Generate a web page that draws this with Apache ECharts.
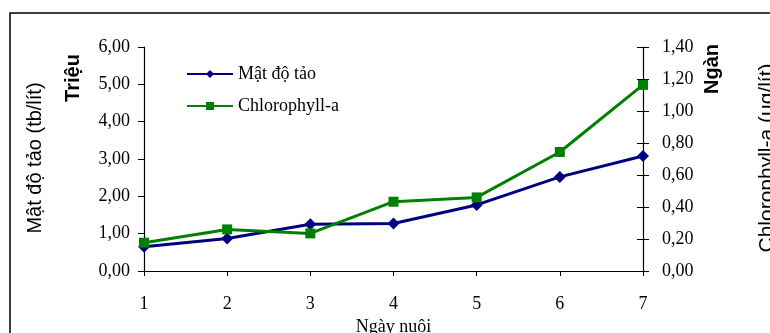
<!DOCTYPE html>
<html><head><meta charset="utf-8">
<script src="https://cdn.jsdelivr.net/npm/echarts@6/dist/echarts.min.js"></script>
<style>html,body{margin:0;padding:0;background:#fff}#c{width:770px;height:333px}</style>
</head><body><div id="c"></div>
<script>
var days = ['1','2','3','4','5','6','7'];
var matDoTao = [0.65, 0.87, 1.25, 1.27, 1.77, 2.52, 3.08];      // Triệu tb/lít
var chlorophyll = [0.177, 0.26, 0.235, 0.433, 0.46, 0.744, 1.163]; // Ngàn ug/lít
var seriesNames = ['Mật độ tảo', 'Chlorophyll-a'];

var serif = '"Liberation Serif","Times New Roman",serif';
var sans = '"Liberation Sans",Arial,sans-serif';
function fmt(v){ return v.toFixed(2).replace('.', ','); }

var chart = echarts.init(document.getElementById('c'));
chart.setOption({
  animation: false,
  grid: { left: 144, right: 127, top: 47, bottom: 62, containLabel: false, outerBoundsMode: 'none' },
  legend: {
    orient: 'vertical', left: 181, top: 60, itemWidth: 46, itemHeight: 10, itemGap: 14,
    textStyle: { fontFamily: serif, fontSize: 18, color: '#000' },
    data: seriesNames
  },
  xAxis: {
    type: 'category', data: days, boundaryGap: false,
    name: 'Ngày nuôi', nameLocation: 'middle', nameGap: 44,
    nameTextStyle: { fontFamily: serif, fontSize: 18, color: '#000' },
    axisLine: { lineStyle: { color: '#000', width: 1.2 } },
    axisTick: { alignWithLabel: true, length: 5, lineStyle: { color: '#000' } },
    axisLabel: { fontFamily: serif, fontSize: 18, color: '#000', margin: 24 },
    splitLine: { show: false }
  },
  yAxis: [
    { type: 'value', position: 'left', min: 0, max: 6, interval: 1,
      axisLine: { show: true, lineStyle: { color: '#000', width: 1.2 } },
      axisTick: { show: true, length: 6, lineStyle: { color: '#000' } },
      axisLabel: { fontFamily: serif, fontSize: 18, color: '#000', margin: 14, formatter: fmt },
      splitLine: { show: false } },
    { type: 'value', position: 'right', min: 0, max: 1.4, interval: 0.2,
      axisLine: { show: true, lineStyle: { color: '#000', width: 1.2 } },
      axisTick: { show: true, length: 6, lineStyle: { color: '#000' } },
      axisLabel: { fontFamily: serif, fontSize: 18, color: '#000', margin: 19, formatter: fmt },
      splitLine: { show: false } },
    { type: 'value', position: 'right', min: 0, max: 1.4, interval: 0.2,
      axisLine: { show: false },
      axisTick: { show: true, inside: true, length: 6, lineStyle: { color: '#000' } },
      axisLabel: { show: false }, splitLine: { show: false } }
  ],
  series: [
    { name: seriesNames[0], type: 'line', yAxisIndex: 0, data: matDoTao,
      symbol: 'diamond', symbolSize: 12, showAllSymbol: true,
      lineStyle: { color: '#000080', width: 3 }, itemStyle: { color: '#000080' } },
    { name: seriesNames[1], type: 'line', yAxisIndex: 1, data: chlorophyll,
      symbol: 'rect', symbolSize: 10, showAllSymbol: true,
      lineStyle: { color: '#008000', width: 3 }, itemStyle: { color: '#008000' } }
  ],
  graphic: [
    { type: 'rect', shape: { x: 10, y: 13, width: 900, height: 500 },
      style: { fill: 'none', stroke: '#000', lineWidth: 1.5 }, silent: true, z: -1 },
    { type: 'text', x: 35, y: 158, rotation: Math.PI / 2,
      style: { text: 'Mật độ tảo (tb/lít)', font: '20px ' + sans, fill: '#000', align: 'center', verticalAlign: 'middle' } },
    { type: 'text', x: 73, y: 78, rotation: Math.PI / 2,
      style: { text: 'Triệu', font: 'bold 20px ' + sans, fill: '#000', align: 'center', verticalAlign: 'middle' } },
    { type: 'text', x: 712, y: 69, rotation: Math.PI / 2,
      style: { text: 'Ngàn', font: 'bold 20px ' + sans, fill: '#000', align: 'center', verticalAlign: 'middle' } },
    { type: 'text', x: 767, y: 158, rotation: Math.PI / 2,
      style: { text: 'Chlorophyll-a (ug/lít)', font: '21px ' + sans, fill: '#000', align: 'center', verticalAlign: 'middle' } }
  ]
});
</script></body></html>
